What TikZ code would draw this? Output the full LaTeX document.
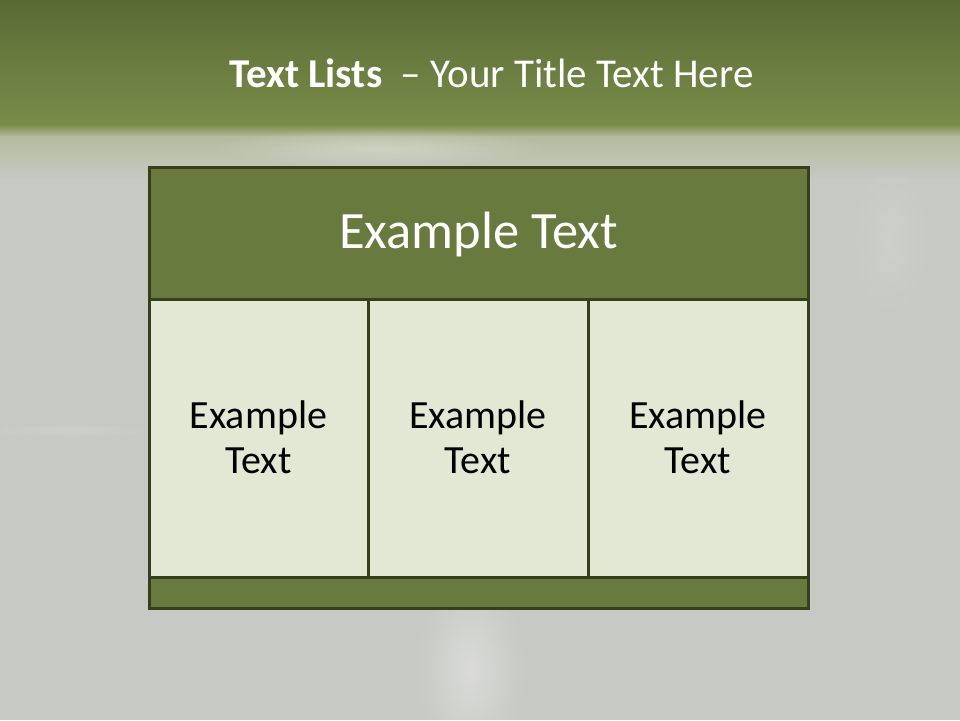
\documentclass[tikz,border=0pt]{standalone}
\usepackage{fontspec}
\setmainfont{Carlito}
\usetikzlibrary{fadings}
\tikzfading[name=softedge, inner color=transparent!0, outer color=transparent!100]
\definecolor{bggray}{HTML}{C7C9C4}
\definecolor{topdark}{HTML}{596A34}
\definecolor{topmid}{HTML}{7A8D4A}
\definecolor{toplight}{HTML}{B3BC9E}
\definecolor{hdrfill}{HTML}{697A3E}
\definecolor{cellfill}{HTML}{E2E8D4}
\definecolor{edge}{HTML}{353F1C}
\tikzset{
  boxbase/.style={draw=edge, line width=3pt, inner sep=0pt, outer sep=0pt, anchor=north west},
  hdrbox/.style={boxbase, fill=hdrfill},
  cellbox/.style={boxbase, fill=cellfill},
  celltext/.style={font=\fontsize{40}{45}\selectfont, text=black, align=center},
  hdrtext/.style={font=\fontsize{52.5}{60}\selectfont, text=white},
}
\begin{document}
\begin{tikzpicture}[x=1pt,y=1pt]
\useasboundingbox (0,0) rectangle (960,720);
% background
\fill[bggray] (0,0) rectangle (960,720);
\shade[top color=topdark, bottom color=topmid] (0,595) rectangle (960,720);
\shade[top color=topmid, bottom color=toplight] (0,583) rectangle (960,595.5);
\shade[top color=toplight, bottom color=bggray] (0,540) rectangle (960,583.5);
\fill[white, path fading=softedge, opacity=0.3] (380,572) ellipse (170 and 20);
\fill[white, path fading=softedge, opacity=0.35] (470,50) ellipse (55 and 95);
\fill[white, path fading=softedge, opacity=0.15] (70,290) ellipse (90 and 8);
\fill[white, path fading=softedge, opacity=0.12] (890,480) ellipse (40 and 80);
% title
\node[anchor=base, font=\fontsize{41}{48}\selectfont, text=white] (title) at (491.5,632)
  {\textbf{Text Lists}\ \ – Your Title Text Here};
% table
\node[hdrbox, minimum width=659pt, minimum height=132pt] (hdr) at (149,552) {};
\node[cellbox, minimum width=219pt, minimum height=277pt] (c1) at (149,420) {};
\node[cellbox, minimum width=220pt, minimum height=277pt] (c2) at (368,420) {};
\node[cellbox, minimum width=220pt, minimum height=277pt] (c3) at (588,420) {};
\node[hdrbox, minimum width=659pt, minimum height=31pt] (ftr) at (149,143) {};
% texts
\node[hdrtext] (hdrlabel) at ([yshift=-1pt]hdr.center) {Example Text};
\node[celltext] (t1) at ([yshift=1pt]c1.center) {Example\\Text};
\node[celltext] (t2) at ([yshift=1pt]c2.center) {Example\\Text};
\node[celltext] (t3) at ([yshift=1pt]c3.center) {Example\\Text};
\end{tikzpicture}
\end{document}
